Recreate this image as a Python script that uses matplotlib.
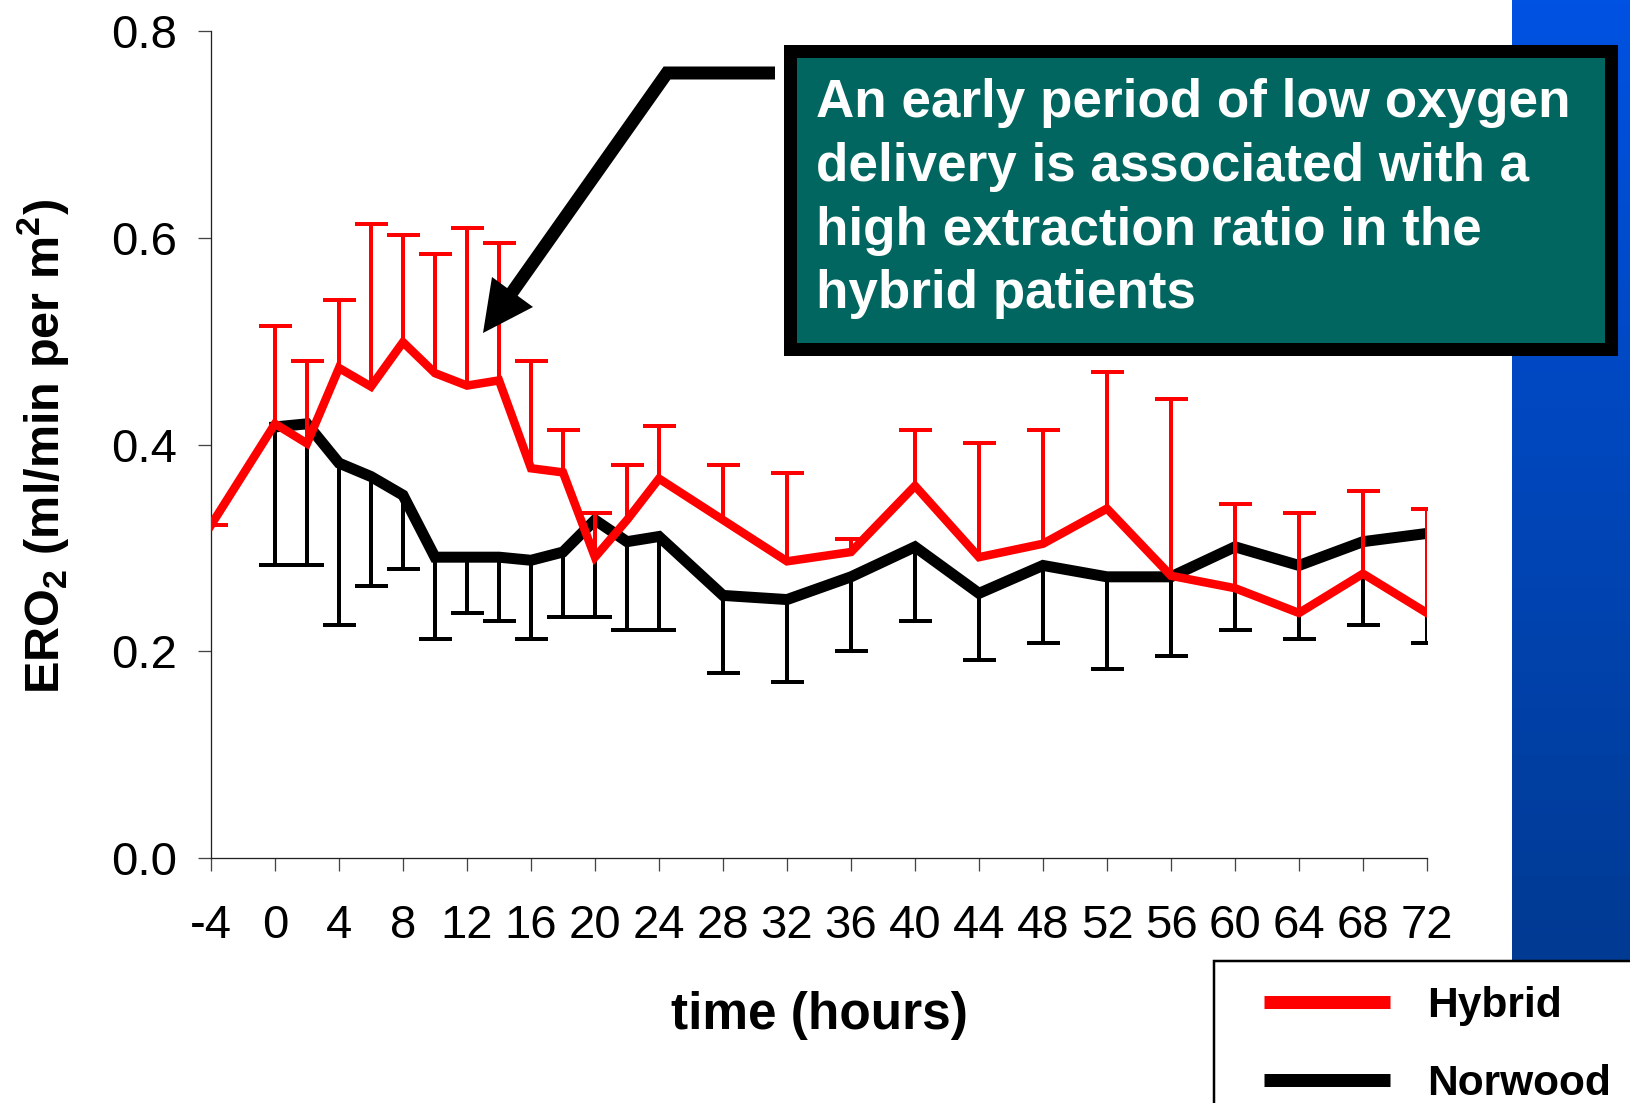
import numpy as np
import matplotlib
matplotlib.use("Agg")
import matplotlib.pyplot as plt
from matplotlib.patches import Rectangle, Polygon
from matplotlib.lines import Line2D
from matplotlib.ticker import FormatStrFormatter

# ---------------- data ----------------
hybrid_hours = [-4, 0, 2, 4, 6, 8, 10, 12, 14, 16, 18, 20, 22, 24,
                28, 32, 36, 40, 44, 48, 52, 56, 60, 64, 68, 72]
hybrid_mean = [0.322, 0.420, 0.401, 0.474, 0.456, 0.499, 0.469, 0.457, 0.462,
               0.377, 0.373, 0.291, 0.327, 0.367, 0.327, 0.287, 0.296, 0.360,
               0.291, 0.304, 0.338, 0.273, 0.261, 0.237, 0.275, 0.237]
hybrid_sd = [0.000, 0.095, 0.080, 0.066, 0.157, 0.104, 0.115, 0.152, 0.133,
             0.104, 0.041, 0.043, 0.053, 0.051, 0.053, 0.085, 0.013, 0.054,
             0.110, 0.110, 0.132, 0.171, 0.081, 0.097, 0.080, 0.101]

norwood_hours = [0, 2, 4, 6, 8, 10, 12, 14, 16, 18, 20, 22, 24,
                 28, 32, 36, 40, 44, 48, 52, 56, 60, 64, 68, 72]
norwood_mean = [0.417, 0.420, 0.382, 0.369, 0.351, 0.291, 0.291, 0.291, 0.288,
                0.296, 0.327, 0.306, 0.311, 0.254, 0.250, 0.272, 0.301, 0.256,
                0.283, 0.272, 0.272, 0.301, 0.283, 0.306, 0.314]
norwood_sd = [0.134, 0.137, 0.157, 0.106, 0.071, 0.079, 0.054, 0.062, 0.076,
              0.063, 0.094, 0.085, 0.090, 0.075, 0.080, 0.072, 0.072, 0.064,
              0.075, 0.089, 0.077, 0.080, 0.071, 0.081, 0.106]

x_ticks = list(range(-4, 73, 4))
y_ticks = [0.0, 0.2, 0.4, 0.6, 0.8]
series_labels = ["Hybrid", "Norwood"]
note_lines = ["An early period of low oxygen",
              "delivery is associated with a",
              "high extraction ratio in the",
              "hybrid patients"]

# ---------------- style ----------------
plt.rcParams['font.family'] = ['Liberation Sans', 'DejaVu Sans']
plt.rcParams['axes.unicode_minus'] = False
plt.rcParams['mathtext.fontset'] = 'custom'
plt.rcParams['mathtext.rm'] = 'Liberation Sans'
plt.rcParams['mathtext.bf'] = 'Liberation Sans:bold'

W, H = 1630, 1103
fig = plt.figure(figsize=(W / 100, H / 100), dpi=100)
fig.patch.set_facecolor('white')

def fx(px):
    return px / W

def fy(py):
    return 1 - py / H

PX = 72 / 100  # points per pixel

ax_left, ax_right, ax_top, ax_bot = 211, 1427, 31, 858
ax = fig.add_axes([fx(ax_left), fy(ax_bot), fx(ax_right) - fx(ax_left), fy(ax_top) - fy(ax_bot)])

RED = '#FF0000'
BLK = '#000000'

# Norwood (below) - error bars downward
nh = np.array(norwood_hours, float)
nm = np.array(norwood_mean)
ns = np.array(norwood_sd)
ax.vlines(nh, nm - ns, nm, color=BLK, lw=4 * PX, zorder=2)
ax.plot(nh, nm - ns, ls='none', marker='_', ms=33 * PX, mew=4 * PX, color=BLK, zorder=2)
ax.plot(nh, nm, color=BLK, lw=11 * PX, solid_joinstyle='miter', zorder=3, label=series_labels[1])

# Hybrid - error bars upward
hh = np.array(hybrid_hours, float)
hm = np.array(hybrid_mean)
hs = np.array(hybrid_sd)
ax.vlines(hh, hm, hm + hs, color=RED, lw=4 * PX, zorder=4)
ax.plot(hh, hm + hs, ls='none', marker='_', ms=33 * PX, mew=4 * PX, color=RED, zorder=4)
ax.plot(hh, hm, color=RED, lw=8.5 * PX, solid_joinstyle='miter', zorder=5, label=series_labels[0])

ax.set_xlim(-4, 72)
ax.set_ylim(0, 0.8)
ax.set_xticks(x_ticks)
ax.set_yticks(y_ticks)
ax.yaxis.set_major_formatter(FormatStrFormatter('%.1f'))
for s in ['top', 'right']:
    ax.spines[s].set_visible(False)
for s in ['left', 'bottom']:
    ax.spines[s].set_linewidth(1.3 * PX)
    ax.spines[s].set_color('#222222')
ax.tick_params(axis='both', direction='out', length=13 * PX, width=1.3 * PX,
               color='#444444', labelsize=34)
ax.tick_params(axis='x', pad=24)
ax.tick_params(axis='y', pad=15)

ax.set_xlabel('time (hours)', fontsize=37, fontweight='bold', va='center')
ax.xaxis.set_label_coords(0.5, (ax_bot - 1015) / (ax_bot - ax_top))
ax.set_ylabel(r'ERO$_{\mathbf{2}}$ (ml/min per m$^{\mathbf{2}}$)', fontsize=35,
              fontweight='bold', va='center')
ax.yaxis.set_label_coords((44 - ax_left) / (ax_right - ax_left), (ax_bot - 446) / (ax_bot - ax_top))

# ---------------- blue band ----------------
bax = fig.add_axes([fx(1512), fy(960), fx(1630) - fx(1512), fy(0) - fy(960)], zorder=-1)
top_c = np.array([0, 82, 226]) / 255
bot_c = np.array([0, 58, 146]) / 255
t = np.linspace(0, 1, 256)[:, None]
grad = (top_c[None, :] * (1 - t) + bot_c[None, :] * t)[:, None, :]
bax.imshow(grad, aspect='auto', extent=[0, 1, 0, 1])
bax.set_axis_off()

# ---------------- legend ----------------
handles, labels = ax.get_legend_handles_labels()
order = [labels.index(series_labels[0]), labels.index(series_labels[1])]
leg = ax.legend([handles[i] for i in order], [labels[i] for i in order],
                loc='upper left', bbox_to_anchor=(fx(1264), fy(986)),
                bbox_transform=fig.transFigure, frameon=False,
                prop={'weight': 'bold', 'size': 30.6}, handlelength=2.96,
                handletextpad=0.87, borderpad=0, borderaxespad=0, labelspacing=0.90)
for ln in leg.get_lines():
    ln.set_linewidth(13 * PX)
    ln.set_solid_capstyle('butt')
fig.add_artist(Rectangle((fx(1214), fy(1140)), fx(1700) - fx(1214), fy(961) - fy(1140),
                         transform=fig.transFigure, facecolor='none', edgecolor='black',
                         lw=2.5 * PX, zorder=6, clip_on=False))

# ---------------- annotation box ----------------
fig.add_artist(Rectangle((fx(789.5), fy(348.5)), fx(1610.5) - fx(789.5), fy(50.5) - fy(348.5),
                         transform=fig.transFigure, facecolor='#026660', edgecolor='black',
                         lw=13 * PX, joinstyle='miter', zorder=6))
for txt, base in zip(note_lines, [117.5, 181, 244.5, 308]):
    fig.text(fx(816), fy(base), txt, color='white', fontsize=38.2, fontweight='bold',
             va='baseline', ha='left', zorder=7)

# ---------------- arrow ----------------
fig.add_artist(Line2D([fx(775), fx(667), fx(512)], [fy(73), fy(73), fy(292.5)],
                      transform=fig.transFigure, color='black', lw=13 * PX,
                      solid_joinstyle='miter', solid_capstyle='butt', zorder=6))
fig.add_artist(Polygon([[fx(483), fy(333)], [fx(492), fy(277)], [fx(533), fy(307)]],
                       closed=True, transform=fig.transFigure, facecolor='black',
                       edgecolor='black', lw=0, zorder=6))

fig.savefig('out.png', dpi=100)
